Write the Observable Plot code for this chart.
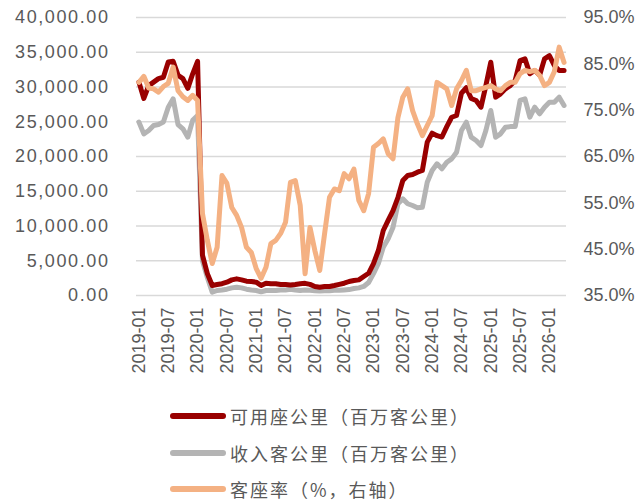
<!DOCTYPE html>
<html>
<head>
<meta charset="utf-8">
<script src="https://cdn.jsdelivr.net/npm/d3@7"></script>
<script src="https://cdn.jsdelivr.net/npm/@observablehq/plot@0.6"></script>
<style>
  html, body { margin: 0; padding: 0; background: #fff; }
  #wrap { position: relative; width: 638px; height: 501px; overflow: hidden; }
  .lg { position: absolute; left: 170px; height: 20px; line-height: 20px; display: flex; align-items: center;
        font-family: "Noto Sans CJK SC", sans-serif; font-size: 18px; letter-spacing: 2px; color: #595959; white-space: nowrap; }
  .sw { display: inline-block; width: 56px; height: 6px; border-radius: 3px; margin-right: 4px; }
</style>
</head>
<body>
<div id="wrap"></div>
<script>
// Categories: monthly, 2019-01 .. 2026-04
const startYear = 2019, endYear = 2026, endMonth = 4;
const months = [];
for (let y = startYear; y <= endYear; y++) {
  for (let m = 1; m <= 12; m++) {
    if (y === endYear && m > endMonth) break;
    months.push(`${y}-${String(m).padStart(2, "0")}`);
  }
}

// 可用座公里（百万客公里）
const ask = [
  30700, 28350, 30200, 30700, 31200, 31400, 33600, 33700, 31700, 31200, 29800, 31900,
  33700, 5800, 3150, 1440, 1580, 1700, 1920, 2250, 2400, 2250, 2060, 2000,
  1920, 1440, 1770, 1700, 1700, 1580, 1580, 1500, 1580, 1700, 1750, 1600,
  1300, 1200, 1300, 1300, 1440, 1600, 1770, 2015, 2160, 2250, 2730, 3200,
  4600, 6475, 9350, 10800, 12200, 14100, 16550, 17270, 17400, 17750, 17990, 22060,
  23360, 23000, 22800, 24300, 25650, 25900, 29100, 29900, 28350, 28060, 27100, 30200,
  33570, 28540, 29020, 29740, 30200, 30940, 33800, 34050, 31900, 32380, 31700, 34050,
  34500, 33100, 32380, 32380
];

// 收入客公里（百万客公里）
const rpk = [
  24950, 23260, 23740, 24460, 24600, 24950, 27100, 28300, 24600, 23980, 22780, 25200,
  25900, 5000, 2600, 480, 720, 800, 910, 1100, 1200, 1100, 910, 800,
  720, 530, 720, 720, 720, 800, 800, 910, 800, 720, 800, 750,
  700, 650, 700, 700, 750, 750, 800, 850, 1000, 1100, 1300, 1870,
  3150, 4600, 6950, 8150, 9830, 13200, 13900, 13200, 12950, 12620, 12700, 16300,
  17990, 18950, 18230, 19180, 19660, 20620, 23740, 24940, 22780, 22300, 21580, 23740,
  26620, 22780, 23260, 24220, 24300, 24300, 28060, 28300, 25660, 27100, 26140, 27100,
  27820, 27820, 28540, 27340
];

// 客座率（%，右轴）
const loadFactor = [
  81.0, 82.3, 79.8, 79.6, 78.9, 80.1, 80.8, 84.3, 79.2, 77.9, 77.1, 78.2,
  77.1, 52.7, 46.9, 41.9, 45.4, 60.9, 59.2, 54.0, 52.3, 49.7, 45.4, 44.3,
  40.8, 38.7, 41.1, 46.2, 46.9, 48.4, 50.8, 59.4, 59.8, 54.5, 39.7, 49.7,
  44.7, 40.4, 48.4, 56.2, 58.0, 57.6, 61.3, 60.2, 62.3, 55.5, 53.3, 57.0,
  67.0, 67.8, 68.8, 65.6, 64.5, 73.4, 77.8, 79.6, 74.9, 72.0, 69.5, 71.7,
  73.8, 81.0, 80.3, 79.6, 76.0, 79.6, 81.4, 83.6, 79.2, 79.2, 79.6, 79.9,
  80.3, 79.6, 79.2, 80.3, 81.0, 81.0, 82.9, 83.6, 83.3, 83.6, 82.5, 80.3,
  81.0, 83.3, 88.6, 85.3
];

const leftTicks = [0, 5000, 10000, 15000, 20000, 25000, 30000, 35000, 40000];
const rightTicks = [35, 45, 55, 65, 75, 85, 95];
const xTickLabels = ["2019-01","2019-07","2020-01","2020-07","2021-01","2021-07","2022-01","2022-07",
                     "2023-01","2023-07","2024-01","2024-07","2025-01","2025-07","2026-01"];

const seriesNames = ["可用座公里（百万客公里）", "收入客公里（百万客公里）", "客座率（%，右轴）"];
const seriesColors = ["#990000", "#b4b4b4", "#f4b183"];

const leftMax = 40000, rightMin = 35, rightMax = 95;
const toLeft = p => (p - rightMin) / (rightMax - rightMin) * leftMax;
const fromLeft = v => rightMin + v * (rightMax - rightMin) / leftMax;

const table = months.map((m, i) => ({ month: m, ask: ask[i], rpk: rpk[i], lf: toLeft(loadFactor[i]) }));

const lineOpts = { x: "month", strokeWidth: 5, strokeLinejoin: "round", strokeLinecap: "round" };

const chart = Plot.plot({
  width: 638,
  height: 392,
  marginTop: 17,
  marginBottom: 97,
  marginLeft: 136,
  marginRight: 72,
  style: { fontFamily: "'Liberation Sans', Arial, sans-serif", fontSize: "18px", color: "#595959", background: "#fff", overflow: "visible" },
  x: { type: "point", domain: months, padding: 0.5 },
  y: { domain: [0, leftMax] },
  marks: [
    Plot.gridY(leftTicks, { stroke: "#d9d9d9", strokeOpacity: 1, strokeWidth: 1.5 }),
    Plot.axisY(leftTicks, { anchor: "left", tickSize: 0, tickPadding: 27, tickFormat: d3.format(",.2f"), label: null }),
    Plot.axisY(rightTicks.map(toLeft), { anchor: "right", tickSize: 0, tickPadding: 17, tickFormat: v => fromLeft(v).toFixed(1) + "%", label: null }),
    Plot.axisX(xTickLabels, { tickSize: 0, tickPadding: 12, tickRotate: -90, label: null }),
    Plot.line(table, { ...lineOpts, y: "rpk", stroke: seriesColors[1] }),
    Plot.line(table, { ...lineOpts, y: "ask", stroke: seriesColors[0] }),
    Plot.line(table, { ...lineOpts, y: "lf", stroke: seriesColors[2] })
  ]
});

// widen the left tick labels slightly (reference spacing)
chart.querySelectorAll("text").forEach(t => {
  if (/^\d[\d,]*\.00$/.test(t.textContent)) t.style.letterSpacing = "1.6px";
});

const wrap = document.getElementById("wrap");
wrap.appendChild(chart);

const rowCenters = [416, 453, 489];
seriesNames.forEach((name, i) => {
  const row = document.createElement("div");
  row.className = "lg";
  row.style.top = (rowCenters[i] - 10) + "px";
  const sw = document.createElement("span");
  sw.className = "sw";
  sw.style.background = seriesColors[i];
  const tx = document.createElement("span");
  tx.textContent = name;
  row.appendChild(sw);
  row.appendChild(tx);
  wrap.appendChild(row);
});
</script>
</body>
</html>
